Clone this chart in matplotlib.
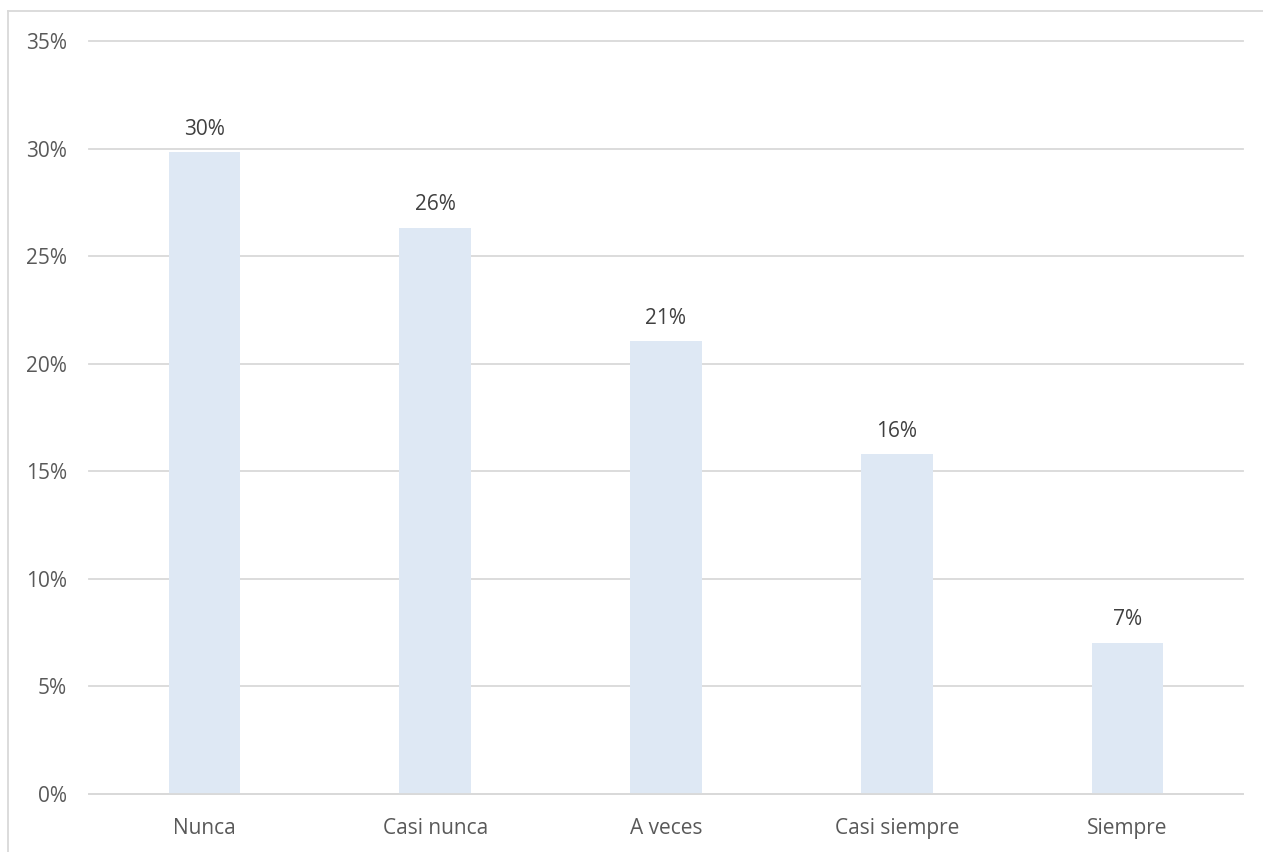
import matplotlib
matplotlib.use("Agg")
import matplotlib.pyplot as plt
from matplotlib.lines import Line2D
from matplotlib.ticker import FuncFormatter, MultipleLocator

categories = ["Nunca", "Casi nunca", "A veces", "Casi siempre", "Siempre"]
values = [29.82, 26.32, 21.05, 15.79, 7.02]
labels = ["30%", "26%", "21%", "16%", "7%"]

plt.rcParams['font.family'] = ['Open Sans', 'DejaVu Sans']

W, H = 1263, 852
fig = plt.figure(figsize=(W / 100, H / 100), dpi=100)
ax = fig.add_axes([89 / W, 1 - 794 / H, (1243 - 89) / W, (794 - 41) / H])

x = range(len(categories))
ax.bar(x, values, width=0.31, color="#DEE8F4", zorder=2)
ax.set_xlim(-0.5, len(categories) - 0.5)
ax.set_ylim(0, 35)
ax.yaxis.set_major_locator(MultipleLocator(5))
ax.yaxis.set_major_formatter(FuncFormatter(lambda v, p: f"{v:.0f}%"))
ax.grid(axis="y", color="#D9D9D9", linewidth=1.3, zorder=0)
ax.set_axisbelow(True)
for s in ["top", "right", "left"]:
    ax.spines[s].set_visible(False)
ax.spines["bottom"].set_color("#D9D9D9")
ax.spines["bottom"].set_linewidth(1.3)
ax.set_xticks(list(x))
ax.set_xticklabels(categories)
ax.tick_params(axis="both", length=0, labelsize=15, colors="#595959")
ax.tick_params(axis="y", pad=16)
ax.tick_params(axis="x", pad=17)
for gl in ax.get_ygridlines():
    gl.set_clip_on(False)

for xi, v, lab in zip(x, values, labels):
    ax.annotate(lab, (xi, v), xytext=(0, 9), textcoords="offset points",
                ha="center", va="bottom", fontsize=15, color="#404040")

# outer chart frame (partially cropped)
fig.add_artist(Line2D([8 / W, 8 / W], [0, 1 - 11 / H], transform=fig.transFigure,
                      color="#D9D9D9", linewidth=1.3))
fig.add_artist(Line2D([8 / W, 1], [1 - 11 / H, 1 - 11 / H], transform=fig.transFigure,
                      color="#D9D9D9", linewidth=1.3))

fig.savefig("out.png", dpi=100)
